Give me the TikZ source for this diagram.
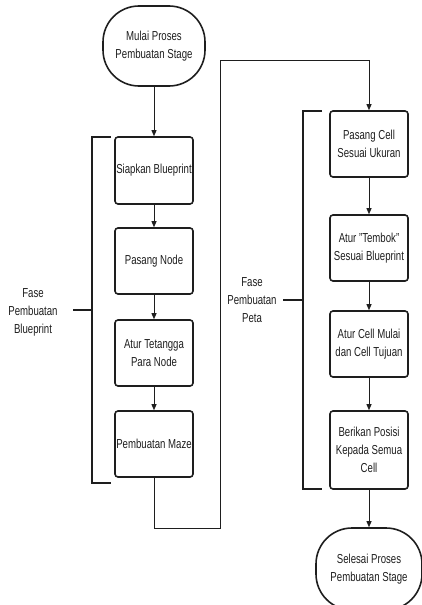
\documentclass[tikz,border=0pt]{standalone}
\usepackage{fontspec}
\setmainfont[FakeStretch=0.74]{Liberation Sans}
\usetikzlibrary{arrows.meta}
\definecolor{ink}{HTML}{1E1E1E}
\begin{document}
\begin{tikzpicture}[x=1pt,y=-1pt,
  every node/.style={font=\fontsize{13}{18}\selectfont, text=ink, align=center},
  terminal/.style={draw=ink, line width=1.6pt, rounded corners=36pt,
    minimum width=102pt, minimum height=80pt, inner sep=0pt},
  stepbox/.style={draw=ink, line width=1.6pt, rounded corners=3pt,
    minimum width=78pt, minimum height=66pt, inner sep=1pt},
  conn/.style={draw=ink, line width=0.9pt, -{Triangle[length=6pt,width=5pt]}},
  wire/.style={draw=ink, line width=0.9pt},
  brace/.style={draw=ink, line width=1.6pt}]
\useasboundingbox (0,0) rectangle (421,605);

% terminals
\node[terminal] (start) at (154,46) {Mulai Proses\\Pembuatan Stage};
\node[terminal, minimum width=106pt, minimum height=82pt] (finish) at (369,569) {Selesai Proses\\Pembuatan Stage};

% blueprint phase
\node[stepbox, minimum height=67pt] (b1) at (154,170.5) {Siapkan Blueprint};
\node[stepbox] (b2) at (154,261) {Pasang Node};
\node[stepbox] (b3) at (154,353) {Atur Tetangga\\Para Node};
\node[stepbox] (b4) at (154,444) {Pembuatan Maze};

% map phase
\node[stepbox] (m1) at (369,144) {Pasang Cell\\Sesuai Ukuran};
\node[stepbox] (m2) at (369,248) {Atur "Tembok"\\Sesuai Blueprint};
\node[stepbox] (m3) at (369,344) {Atur Cell Mulai\\dan Cell Tujuan};
\node[stepbox, minimum height=78pt] (m4) at (369,450) {Berikan Posisi\\Kepada Semua\\Cell};

% phase labels
\node (lb) at (33,312) {Fase\\Pembuatan\\Blueprint};
\node (lm) at (252,300) {Fase\\Pembuatan\\Peta};

% flow
\draw[conn] (start) -- (b1);
\draw[conn] (b1) -- (b2);
\draw[conn] (b2) -- (b3);
\draw[conn] (b3) -- (b4);
\coordinate (d1) at (154,528);
\coordinate (d2) at (220,528);
\coordinate (d3) at (220,60);
\coordinate (d4) at (369,60);
\draw[wire] (b4.south) -- (d1) -- (d2) -- (d3) -- (d4);
\draw[conn] (d4) -- (m1.north);
\draw[conn] (m1) -- (m2);
\draw[conn] (m2) -- (m3);
\draw[conn] (m3) -- (m4);
\draw[conn] (m4) -- (finish);

% phase brackets
\draw[brace] (111,137) -- (92,137) -- (92,483) -- (111,483);
\draw[brace] (73,310) -- (92,310);
\draw[brace] (322,111) -- (303,111) -- (303,489) -- (322,489);
\draw[brace] (283,300) -- (303,300);
\end{tikzpicture}
\end{document}
